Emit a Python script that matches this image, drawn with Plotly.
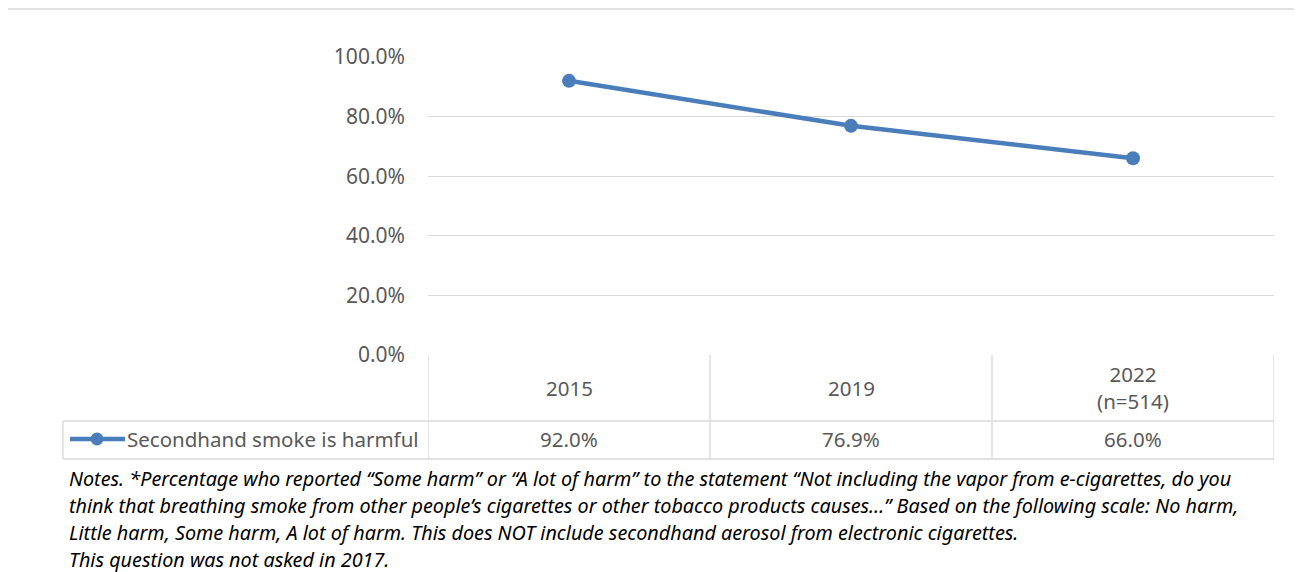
import plotly.graph_objects as go

years = ["2015", "2019", "2022"]
year_labels = ["2015", "2019", "2022<br>(n=514)"]
harmful = [92.0, 76.9, 66.0]
series_name = "Secondhand smoke is harmful"
y_ticks = [0, 20, 40, 60, 80, 100]
y_tick_labels = ["0.0%", "20.0%", "40.0%", "60.0%", "80.0%", "100.0%"]
notes = [
    "Notes. *Percentage who reported \u201cSome harm\u201d or \u201cA lot of harm\u201d to the statement \u201cNot including the vapor from e-cigarettes, do you",
    "think that breathing smoke from other people\u2019s cigarettes or other tobacco products causes\u2026\u201d Based on the following scale: No harm,",
    "Little harm, Some harm, A lot of harm. This does NOT include secondhand aerosol from electronic cigarettes.",
    "This question was not asked in 2017.",
]

W, H = 1302, 572
OFF = 8  # page body margin that shifts the figure
L, R, T, B = 428, 1274, 57, 355
BLUE = "#4a7ebb"
GRID = "#d9d9d9"
TXT = "#595959"
FONT = "Noto Sans"


def px(x):
    return (x - L) / (R - L)


def py(y):
    return (B - y) / (B - T)


fig = go.Figure()
fig.add_trace(go.Scatter(
    x=years, y=harmful, name=series_name, mode="lines+markers",
    line=dict(color=BLUE, width=4.5), marker=dict(size=14, color=BLUE),
    showlegend=False, hoverinfo="x+y",
))

shapes = []


def line(x0, y0, x1, y1, xref="paper", color=GRID, width=1.3):
    shapes.append(dict(type="line", xref=xref, yref="paper", x0=x0, y0=y0, x1=x1, y1=y1,
                       line=dict(color=color, width=width)))


# outer chart frame
line(px(7), py(9), px(W + 20), py(9))
line(px(7), py(9), px(7), py(H + 20))

# data table grid
row_mid, row_bot = 421, 459
for i in range(len(years) + 1):
    line(i - 0.5, py(B), i - 0.5, py(row_bot), xref="x")
line(px(63), py(row_mid), px(R), py(row_mid))
line(px(63), py(row_bot), px(R), py(row_bot))
line(px(63), py(row_mid), px(63), py(row_bot))

# legend key in the table
line(px(70), py(439), px(125), py(439), color=BLUE, width=4.5)
shapes.append(dict(type="circle", xref="paper", yref="paper",
                   x0=px(90.5), x1=px(103.5), y0=py(445.5), y1=py(432.5),
                   fillcolor=BLUE, line=dict(color=BLUE, width=0)))

annotations = []
for i, (lab, val) in enumerate(zip(year_labels, harmful)):
    annotations.append(dict(x=i, xref="x", y=py(388), yref="paper", text=lab,
                            yanchor="middle", showarrow=False,
                            font=dict(size=20.5, color=TXT, family=FONT)))
    annotations.append(dict(x=i, xref="x", y=py(439), yref="paper", text=f"{val:.1f}%",
                            yanchor="middle", showarrow=False,
                            font=dict(size=20.5, color=TXT, family=FONT)))
annotations.append(dict(x=px(421), xref="paper", y=py(439), yref="paper", text=series_name,
                        xanchor="right", yanchor="middle", showarrow=False,
                        font=dict(size=20.5, color=TXT, family=FONT)))
for k, note in enumerate(notes):
    annotations.append(dict(x=px(67), xref="paper", y=py(478 + k * 27), yref="paper",
                            text=f"<i>{note}</i>", xanchor="left", yanchor="middle",
                            align="left", showarrow=False,
                            font=dict(size=19.8, color="#000000", family=FONT)))

fig.update_layout(
    width=W, height=H,
    margin=dict(l=L - OFF, r=W - R + OFF, t=T - OFF, b=H - B + OFF),
    paper_bgcolor="white", plot_bgcolor="white",
    font=dict(family=FONT, color=TXT),
    shapes=shapes, annotations=annotations,
    xaxis=dict(type="category", range=[-0.5, 2.5], showticklabels=False,
               showgrid=False, zeroline=False, showline=False, fixedrange=True),
    yaxis=dict(range=[0, 100], tickvals=y_ticks, ticktext=y_tick_labels,
               ticklabelstandoff=22,
               tickfont=dict(size=21, color=TXT, family=FONT),
               showgrid=True, gridcolor=GRID, gridwidth=1.3, zeroline=False,
               showline=False, fixedrange=True),
)

fig.write_html("out.html")
